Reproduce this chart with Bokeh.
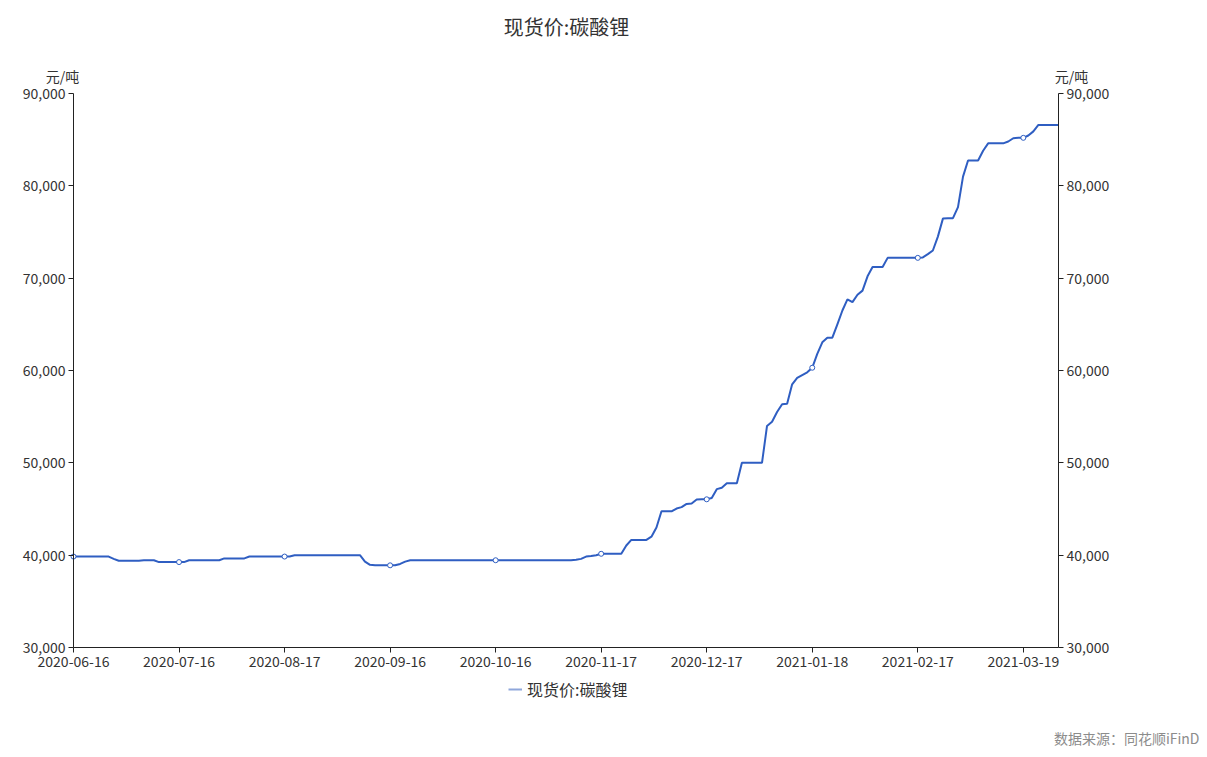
from bokeh.plotting import figure
from bokeh.models import (Range1d, LinearAxis, FixedTicker, NumeralTickFormatter,
                          Legend, LegendItem, Label)
from bokeh.embed import file_html
from bokeh.resources import INLINE

# ---------------- data ----------------
title_text = "现货价:碳酸锂"
series_name = "现货价:碳酸锂"
unit_text = "元/吨"
source_text = "数据来源：同花顺iFinD"

tick_labels = ["2020-06-16", "2020-07-16", "2020-08-17", "2020-09-16", "2020-10-16",
               "2020-11-17", "2020-12-17", "2021-01-18", "2021-02-17", "2021-03-19"]
tick_step = 21  # points between labelled dates

y_ticks = [30000, 40000, 50000, 60000, 70000, 80000, 90000]

prices = [
    39850, 39850, 39850, 39850, 39850, 39850, 39850, 39850, 39600, 39400,
    39400, 39400, 39400, 39400, 39450, 39450, 39450, 39250, 39250, 39250,
    39250, 39250, 39250, 39450, 39450, 39450, 39450, 39450, 39450, 39450,
    39650, 39650, 39650, 39650, 39650, 39850, 39850, 39850, 39850, 39850,
    39850, 39850, 39850, 39850, 40000, 40000, 40000, 40000, 40000, 40000,
    40000, 40000, 40000, 40000, 40000, 40000, 40000, 40000, 39300, 38950,
    38900, 38900, 38900, 38900, 38900, 39050, 39300, 39450, 39450, 39450,
    39450, 39450, 39450, 39450, 39450, 39450, 39450, 39450, 39450, 39450,
    39450, 39450, 39450, 39450, 39450, 39450, 39450, 39450, 39450, 39450,
    39450, 39450, 39450, 39450, 39450, 39450, 39450, 39450, 39450, 39450,
    39500, 39600, 39850, 39900, 40000, 40150, 40150, 40150, 40150, 40150,
    41050, 41650, 41650, 41650, 41650, 42000, 43000, 44750, 44750, 44750,
    45050, 45200, 45550, 45600, 46030, 46050, 46050, 46200, 47150, 47300,
    47800, 47800, 47800, 50000, 50000, 50000, 50000, 50000, 54000, 54450,
    55500, 56350, 56400, 58500, 59200, 59500, 59800, 60300, 61800, 63050,
    63550, 63550, 65000, 66500, 67700, 67400, 68200, 68650, 70200, 71200,
    71200, 71200, 72200, 72200, 72200, 72200, 72200, 72200, 72200, 72250,
    72600, 73000, 74500, 76450, 76500, 76500, 77700, 81000, 82750, 82750,
    82750, 83800, 84600, 84600, 84600, 84600, 84800, 85150, 85200, 85200,
    85450, 85900, 86600, 86600, 86600, 86600, 86600,
]

# ---------------- layout (pixel plan) ----------------
W, H = 1200, 752
PL, PR, PT, PB = 73, 1058, 93, 647      # plot-area edges on the canvas
Y0, Y1 = 30000, 90000
n = len(prices)
xs = list(range(n))

x_per_px = (n - 1) / (PR - PL)
y_per_px = (Y1 - Y0) / (PB - PT)

def dx(px):
    return (px - PL) * x_per_px

def dy(py):
    return Y1 - (py - PT) * y_per_px

LINE = "#2f5ec2"
TXT = "#333333"
AX = "#222222"
FONT = "Noto Sans CJK SC"

p = figure(width=W, height=H, output_backend="svg", toolbar_location=None,
           x_range=Range1d(dx(0), dx(W)), y_range=Range1d(dy(H), dy(0)),
           min_border_left=0, min_border_right=0, min_border_top=0,
           min_border_bottom=0)
p.outline_line_color = None
p.xgrid.visible = False
p.ygrid.visible = False
p.background_fill_color = "white"
p.border_fill_color = "white"

# bottom axis
xa = p.xaxis[0]
tick_pos = [i * tick_step for i in range(len(tick_labels))]
xa.ticker = FixedTicker(ticks=tick_pos)
xa.major_label_overrides = {t: lab for t, lab in zip(tick_pos, tick_labels)}
xa.fixed_location = Y0
xa.bounds = (0, n - 1)
xa.axis_line_color = AX
xa.major_tick_line_color = AX
xa.major_tick_out = 5
xa.major_tick_in = 0
xa.minor_tick_line_color = None
xa.major_label_text_font = FONT
xa.major_label_text_font_size = "14px"
xa.major_label_text_color = TXT
xa.major_label_standoff = 3

def style_y(ax, loc):
    ax.ticker = FixedTicker(ticks=y_ticks)
    ax.formatter = NumeralTickFormatter(format="0,0")
    ax.fixed_location = loc
    ax.bounds = (Y0, Y1)
    ax.axis_line_color = AX
    ax.major_tick_line_color = AX
    ax.major_tick_out = 5
    ax.major_tick_in = 0
    ax.minor_tick_line_color = None
    ax.major_label_text_font = FONT
    ax.major_label_text_font_size = "14px"
    ax.major_label_text_color = TXT
    ax.major_label_standoff = 3

style_y(p.yaxis[0], 0)
ra = LinearAxis()
style_y(ra, n - 1)
p.add_layout(ra, "right")

# series
line_r = p.line(xs, prices, line_color=LINE, line_width=2)
mk_x = tick_pos
mk_y = [prices[i] for i in mk_x]
p.scatter(mk_x, mk_y, size=5, marker="circle", fill_color="white",
          line_color=LINE, line_width=1)

# legend below the chart (icon renderer holds one non-drawn point)
icon = p.line([0], [float("nan")], line_color="#8fa7db", line_width=2)
legend = Legend(items=[LegendItem(label=series_name, renderers=[icon])],
                location=(508, H - 701), orientation="horizontal",
                border_line_color=None, background_fill_alpha=0,
                padding=0, margin=0, spacing=0,
                glyph_width=14, glyph_height=20, label_height=20,
                label_standoff=5, label_text_font=FONT,
                label_text_font_size="16px", label_text_color=TXT)
p.add_layout(legend)

# texts
def add_text(px, py, text, size, align="center", color=TXT):
    p.add_layout(Label(x=dx(px), y=dy(py), text=text, text_align=align,
                       text_baseline="middle", text_font=FONT,
                       text_font_size=size, text_color=color))

add_text(566, 26, title_text, "20px")
add_text(62, 75, unit_text, "14px")
add_text(1071, 75, unit_text, "14px")
add_text(1199, 737, source_text, "14px", align="right", color="#8c8c8c")

open("out.html", "w").write(file_html(p, INLINE))
